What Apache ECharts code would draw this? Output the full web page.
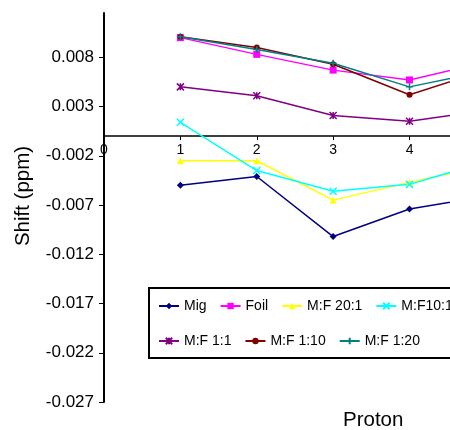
<!DOCTYPE html>
<html>
<head>
<meta charset="utf-8">
<script src="https://cdn.jsdelivr.net/npm/echarts@6/dist/echarts.min.js"></script>
<style>
  html, body { margin: 0; padding: 0; background: #fff; }
  #chart { width: 450px; height: 430px; }
</style>
</head>
<body>
<div id="chart"></div>
<script>
// proton number on x, shift (ppm) on y
const protons = [1, 2, 3, 4, 5]
const mig    = [-0.0050, -0.0041, -0.0102, -0.0074, -0.0061]
const foil   = [0.0100, 0.0083, 0.0067, 0.0057, 0.0075]
const mf20_1 = [-0.0025, -0.0025, -0.0065, -0.0047, -0.0030]
const mf10_1 = [0.0014, -0.0035, -0.0056, -0.0049, -0.0026]
const mf1_1  = [0.0050, 0.0041, 0.0021, 0.0015, 0.0026]
const mf1_10 = [0.0101, 0.0090, 0.0073, 0.0042, 0.0067]
const mf1_20 = [0.0101, 0.0088, 0.0074, 0.0050, 0.0066]
const yTicks = [-0.027, -0.022, -0.017, -0.012, -0.007, -0.002, 0.003, 0.008]
const xTicks = [0, 1, 2, 3, 4]

const font = 'Liberation Sans'
const yMin = -0.027
const yMax = 0.0125
// the original plot is cut off at the right edge, a bit past proton 4
const xMax = 4.53
const gridTop = 13
const gridBottom = 28
const chartHeight = 430

// x axis sits on y = 0, move the whole axis (line + labels) up there
const plotHeight = chartHeight - gridTop - gridBottom
const zeroOffset = plotHeight * (0 - yMin) / (yMax - yMin)

// marker shapes
const xPath = 'path://M0,0L10,10M10,0L0,10'
const plusPath = 'path://M5,0L5,10M0,5L10,5'
const starPath = 'path://M0,0L10,10M10,0L0,10M5,0L5,10'

function makeSeries(name, values, color, symbol, size, stroked) {
  return {
    name: name,
    type: 'line',
    data: protons.map((p, i) => [p, values[i]]),
    symbol: symbol,
    symbolSize: size,
    lineStyle: { color: color, width: 1.5 },
    itemStyle: stroked
      ? { color: color, borderColor: color, borderWidth: 1.5 }
      : { color: color },
    emphasis: { disabled: true }
  }
}

let myChart = echarts.init(document.getElementById('chart'))
let option = {
  animation: false,
  title: {
    text: 'Proton',
    left: 343,
    top: 410,
    padding: 0,
    textStyle: { fontFamily: font, fontSize: 20.5, fontWeight: 'normal', color: '#000' }
  },
  graphic: [
    {
      type: 'text',
      x: 23,
      y: 196,
      rotation: Math.PI / 2,
      style: {
        text: 'Shift (ppm)',
        fontFamily: font,
        fontSize: 20.5,
        fill: '#000',
        align: 'center',
        verticalAlign: 'middle'
      }
    }
  ],
  legend: {
    left: 149,
    top: 288,
    width: 305,
    padding: [7, 10, 6, 9],
    itemGap: 13,
    itemWidth: 20,
    itemHeight: 8,
    borderColor: '#000',
    borderWidth: 2,
    textStyle: { fontFamily: font, fontSize: 14, color: '#000', lineHeight: 22 },
    data: ['Mig', 'Foil', 'M:F 20:1', 'M:F10:1', 'M:F 1:1', 'M:F 1:10', 'M:F 1:20']
  },
  grid: {
    left: 104,
    right: 0,
    top: gridTop,
    bottom: gridBottom,
    containLabel: false
  },
  xAxis: {
    type: 'value',
    min: 0,
    max: xMax,
    offset: -zeroOffset,
    axisLine: { onZero: false, lineStyle: { color: '#000', width: 1.5 } },
    axisTick: { show: true, length: 4, customValues: xTicks, lineStyle: { color: '#000' } },
    axisLabel: { margin: 7, fontFamily: font, fontSize: 14, color: '#000', customValues: xTicks },
    splitLine: { show: false }
  },
  yAxis: {
    type: 'value',
    min: yMin,
    max: yMax,
    axisLine: { show: true, lineStyle: { color: '#000', width: 2 } },
    axisTick: { show: true, length: 5, customValues: yTicks, lineStyle: { color: '#000' } },
    axisLabel: {
      margin: 10,
      fontFamily: font,
      fontSize: 17,
      color: '#000',
      customValues: yTicks,
      formatter: v => v.toFixed(3)
    },
    splitLine: { show: false }
  },
  series: [
    makeSeries('Mig', mig, '#000080', 'diamond', 7, false),
    makeSeries('Foil', foil, '#FF00FF', 'rect', 7, false),
    makeSeries('M:F 20:1', mf20_1, '#FFFF00', 'triangle', 7, false),
    makeSeries('M:F10:1', mf10_1, '#00FFFF', xPath, 7, true),
    makeSeries('M:F 1:1', mf1_1, '#800080', starPath, 7, true),
    makeSeries('M:F 1:10', mf1_10, '#800000', 'circle', 6, false),
    makeSeries('M:F 1:20', mf1_20, '#008080', plusPath, 7, true)
  ]
}
myChart.setOption(option)
</script>
</body>
</html>
